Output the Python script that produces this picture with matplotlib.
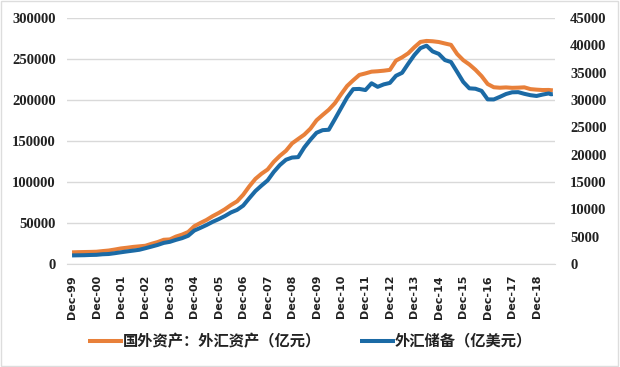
import matplotlib
matplotlib.use("Agg")
import matplotlib.pyplot as plt
import pandas as pd
from matplotlib.patches import Rectangle

# quarter-end points Dec-99 .. Jun-19, then Jul-19, Aug-19
dates = list(pd.date_range("1999-12-31", "2019-06-30", freq="QE")) + \
        [pd.Timestamp("2019-07-31"), pd.Timestamp("2019-08-31")]

# 国外资产：外汇资产（亿元） - left axis
fx_assets = [
    14061,
    14300, 14450, 14600, 14815,
    15600, 16300, 17500, 18850,
    19700, 20700, 21400, 22107,
    24500, 26600, 29400, 29842,
    33300, 35700, 38900, 45940,
    49900, 53600, 58200, 62140,
    66600, 71800, 76300, 84361,
    94600, 103700, 110000, 115169,
    124500, 131800, 138000, 147000,
    152400, 157700, 165000, 175155,
    181700, 188000, 196000, 206767,
    217000, 224000, 230500, 232389,
    234500, 235000, 235700, 236670,
    248000, 252000, 256900, 264270,
    270800, 272000, 271600, 270681,
    268900, 267200, 256100, 248538,
    243300, 236800, 229100, 219425,
    215500, 214900, 215300, 214788,
    215000, 215400, 213200, 212557,
    212100, 212200, 211900, 211700,
]

# 外汇储备（亿美元） - right axis
fx_reserves = [
    1547,
    1568, 1586, 1629, 1656,
    1759, 1806, 1956, 2122,
    2281, 2427, 2580, 2864,
    3160, 3465, 3839, 4033,
    4397, 4706, 5145, 6099,
    6591, 7110, 7690, 8189,
    8751, 9411, 9879, 10663,
    12020, 13326, 14336, 15282,
    16822, 18088, 19056, 19460,
    19537, 21316, 22726, 23992,
    24471, 24543, 26483, 28473,
    30447, 31975, 32017, 31811,
    33050, 32400, 32851, 33116,
    34426, 34967, 36627, 38213,
    39480, 39932, 38877, 38430,
    37301, 36938, 35141, 33304,
    32126, 32052, 31664, 30105,
    30091, 30568, 31085, 31399,
    31428, 31121, 30870, 30727,
    30988, 31192, 31037, 31072,
]

tick_years = list(range(1999, 2019))
tick_labels = [f"Dec-{y % 100:02d}" for y in tick_years]

# months since Dec-1999
x = [(d.year - 1999) * 12 + d.month - 12 for d in dates]
xticks = [(y - 1999) * 12 for y in tick_years]

ORANGE = "#E8803A"
BLUE = "#1B6AA5"
GRID = "#d9d9d9"

plt.rcParams["font.family"] = ["Noto Sans CJK SC", "DejaVu Sans"]

fig = plt.figure(figsize=(6.2, 3.67), dpi=100)
ax = fig.add_axes([0.108, 0.281, 0.787, 0.670])
ax2 = ax.twinx()

ax.plot(x, fx_assets, color=ORANGE, lw=2.9, solid_capstyle="butt",
        label="国外资产：外汇资产（亿元）")
ax2.plot(x, fx_reserves, color=BLUE, lw=2.9, solid_capstyle="butt",
         label="外汇储备（亿美元）")

ax.set_xlim(-2.5, 237)
ax.set_ylim(0, 300000)
ax2.set_ylim(0, 45000)
ax.set_yticks(range(0, 300001, 50000))
ax2.set_yticks(range(0, 45001, 5000))

ax.grid(axis="y", color=GRID, lw=1)
ax.set_axisbelow(True)
for a in (ax, ax2):
    for s in a.spines.values():
        s.set_visible(False)
ax.spines["bottom"].set_visible(True)
ax.spines["bottom"].set_color(GRID)

num_font = dict(family="Liberation Serif", weight="bold", size=10.5)
ax.tick_params(axis="y", length=0, pad=8)
ax2.tick_params(axis="y", length=0, pad=11)
for lab in ax.get_yticklabels() + ax2.get_yticklabels():
    lab.set_fontproperties(num_font)
    lab.set_color("#222222")

ax.set_xticks(xticks)
ax.set_xticklabels(tick_labels, rotation=90, family="DejaVu Sans",
                   weight="bold", fontsize=8, color="#222222")
ax.tick_params(axis="x", length=0, pad=8)

h1, l1 = ax.get_legend_handles_labels()
h2, l2 = ax2.get_legend_handles_labels()
leg = fig.legend(h1 + h2, l1 + l2, loc="center", bbox_to_anchor=(0.5, 0.071),
                 ncol=2, frameon=False, fontsize=11, handlelength=2.3,
                 handletextpad=0.0, columnspacing=2.5,
                 prop=dict(family=["Noto Sans CJK SC", "DejaVu Sans"],
                           weight="bold", size=11))
for t in leg.get_texts():
    t.set_color("#222222")

fig.patches.append(Rectangle((0.002, 0.002), 0.995, 0.995,
                             transform=fig.transFigure, fill=False,
                             edgecolor="#dddddd", lw=1))

fig.savefig("out.png", dpi=100)
